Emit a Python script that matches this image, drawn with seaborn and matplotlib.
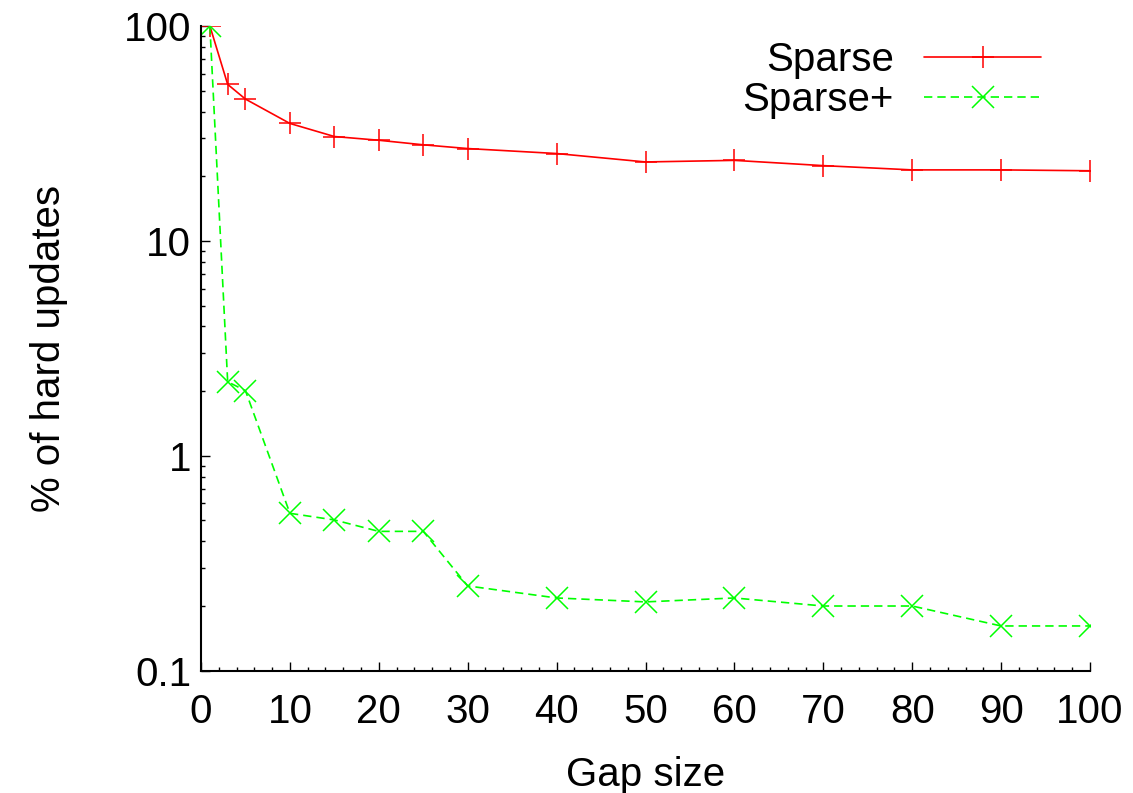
import matplotlib
matplotlib.use("Agg")
import matplotlib.pyplot as plt
from matplotlib.ticker import LogLocator, MultipleLocator, FixedLocator, FixedFormatter
from matplotlib.lines import Line2D
import seaborn as sns
import pandas as pd

gap_sizes = [1, 3, 5, 10, 15, 20, 25, 30, 40, 50, 60, 70, 80, 90, 100]
sparse = [100, 53.5, 45.7, 35.2, 30.6, 29.4, 28.0, 26.9, 25.5, 23.3, 23.7, 22.4, 21.4, 21.4, 21.2]
sparse_plus = [100, 2.21, 2.01, 0.54, 0.503, 0.445, 0.445, 0.248, 0.218, 0.209, 0.218, 0.200, 0.200, 0.1615, 0.1615]
series_names = ["Sparse", "Sparse+"]
y_ticks = [0.1, 1, 10, 100]
y_tick_labels = ["0.1", "1", "10", "100"]
x_ticks = [0, 10, 20, 30, 40, 50, 60, 70, 80, 90, 100]

sns.set_style("ticks")
plt.rcParams["font.family"] = ["Liberation Sans", "DejaVu Sans"]
plt.rcParams["axes.labelcolor"] = "black"
plt.rcParams["text.color"] = "black"
FS = 29
MS = 15.5
LW = 1.2

df = pd.concat([
    pd.DataFrame({"gap": gap_sizes, "pct": sparse, "series": series_names[0]}),
    pd.DataFrame({"gap": gap_sizes, "pct": sparse_plus, "series": series_names[1]}),
])

colors = {"Sparse": "#ff0000", "Sparse+": "#00ff00"}
markers = {"Sparse": "+", "Sparse+": "x"}
dashes = {"Sparse": "", "Sparse+": (5, 3)}

fig = plt.figure(figsize=(11.33, 7.93), dpi=100)
ax = fig.add_axes([201 / 1133, 1 - 670.7 / 793, (1090 - 201) / 1133, (670.7 - 26) / 793])

sns.lineplot(data=df, x="gap", y="pct", hue="series", style="series",
             palette=colors, markers=markers, dashes=dashes,
             linewidth=LW, markersize=MS, markeredgewidth=1.1,
             legend=False, ax=ax)
for line in ax.lines:
    line.set_markeredgecolor(line.get_color())
    line.set_markerfacecolor(line.get_color())

ax.set_yscale("log")
ax.set_xlim(0, 100)
ax.set_ylim(0.1, 100)

ax.xaxis.set_major_locator(FixedLocator(x_ticks))
ax.xaxis.set_minor_locator(MultipleLocator(2))
ax.yaxis.set_major_locator(FixedLocator(y_ticks))
ax.yaxis.set_major_formatter(FixedFormatter(y_tick_labels))
ax.yaxis.set_minor_locator(LogLocator(base=10, subs=range(2, 10)))
ax.yaxis.set_minor_formatter(FixedFormatter([]))

ax.tick_params(axis="both", which="major", direction="in", length=6.5, width=1.0,
               labelsize=FS, color="black", labelcolor="black")
ax.tick_params(axis="both", which="minor", direction="in", length=3.2, width=1.0, color="black")
ax.tick_params(axis="x", which="major", pad=16)
ax.tick_params(axis="y", which="major", pad=7)

for side in ["top", "right"]:
    ax.spines[side].set_visible(False)
for side in ["left", "bottom"]:
    ax.spines[side].set_linewidth(1.5)
    ax.spines[side].set_color("black")

ax.set_xlabel("Gap size", fontsize=FS, labelpad=18)
ax.set_ylabel("% of hard updates", fontsize=FS, labelpad=40)

handles = [
    Line2D([], [], color=colors["Sparse"], marker="+", markersize=MS, lw=LW, mew=1.1),
    Line2D([], [], color=colors["Sparse+"], marker="x", markersize=MS, lw=LW, mew=1.1,
           linestyle=(0, (5, 3))),
]
ax.legend(handles, series_names, loc="upper right", bbox_to_anchor=(0.954, 0.989),
          frameon=False, markerfirst=False, fontsize=FS, handlelength=2.9,
          handletextpad=0.75, labelspacing=0.04, borderpad=0.2, borderaxespad=0.0,
          numpoints=1)

fig.savefig("out.png", dpi=100, facecolor="white")
